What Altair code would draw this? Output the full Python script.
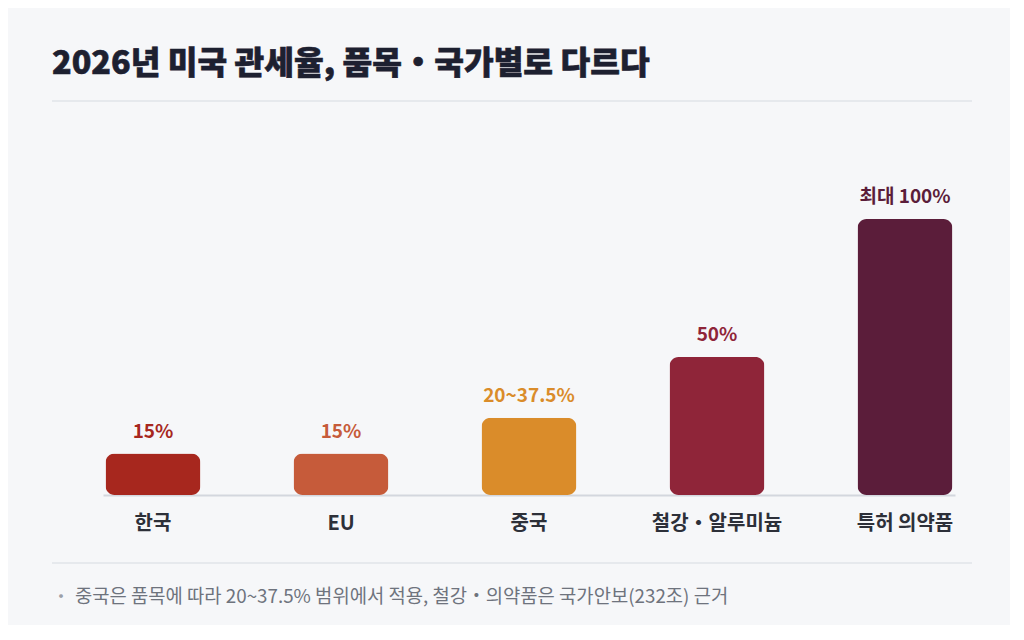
import altair as alt
import pandas as pd

categories = ["한국", "EU", "중국", "철강・알루미늄", "특허 의약품"]
values = [15, 15, 28, 50, 100]
value_labels = ["15%", "15%", "20~37.5%", "50%", "최대 100%"]
colors = ["#a7271e", "#c65b3a", "#da8c2a", "#8f2539", "#5b1d3a"]

title_text = "2026년 미국 관세율, 품목・국가별로 다르다"
footnote_text = "중국은 품목에 따라 20~37.5% 범위에서 적용, 철강・의약품은 국가안보(232조) 근거"

FONT = "Noto Sans CJK KR"
BG = "#f6f7f9"

df = pd.DataFrame({"cat": categories, "val": values, "label": value_labels})

xenc = alt.X(
    "cat:N",
    sort=categories,
    scale=alt.Scale(paddingInner=0.495, paddingOuter=0.0135),
    axis=alt.Axis(
        title=None,
        labelAngle=0,
        labelFont=FONT,
        labelFontSize=20,
        labelFontWeight="bold",
        labelColor="#2d3039",
        labelPadding=18,
        ticks=False,
        tickSize=0,
        domainColor="#d3d7de",
        domainWidth=2,
        grid=False,
    ),
)
yenc = alt.Y("val:Q", scale=alt.Scale(domain=[0, 100]), axis=None)
color_enc = alt.Color(
    "cat:N", scale=alt.Scale(domain=categories, range=colors), legend=None
)

bars = alt.Chart(df).mark_bar(cornerRadius=9).encode(x=xenc, y=yenc, color=color_enc)

labels = alt.Chart(df).mark_text(
    font=FONT, fontSize=19, fontWeight="bold", baseline="alphabetic", dy=-16
).encode(x=xenc, y=yenc, text="label:N", color=color_enc)

title = alt.Chart(pd.DataFrame({"t": [title_text]})).mark_text(
    font=FONT, fontSize=32.3, fontWeight=900, color="#1d2030",
    stroke="#1d2030", strokeWidth=0.6,
    align="left", baseline="alphabetic"
).encode(x=alt.value(-51), y=alt.value(-145), text="t:N")

top_rule = alt.Chart(pd.DataFrame({"a": [0]})).mark_rule(
    color="#e1e4e9", strokeWidth=1.5
).encode(x=alt.value(-51), x2=alt.value(869), y=alt.value(-118))

bottom_rule = alt.Chart(pd.DataFrame({"a": [0]})).mark_rule(
    color="#e1e4e9", strokeWidth=1.5
).encode(x=alt.value(-51), x2=alt.value(869), y=alt.value(344))

bullet = alt.Chart(pd.DataFrame({"t": ["・"]})).mark_text(
    font=FONT, fontSize=18, color="#9ca0a8", align="center", baseline="alphabetic"
).encode(x=alt.value(-42), y=alt.value(384), text="t:N")

footnote = alt.Chart(pd.DataFrame({"t": [footnote_text]})).mark_text(
    font=FONT, fontSize=18.8, color="#6e737d", align="left", baseline="alphabetic"
).encode(x=alt.value(-28), y=alt.value(384), text="t:N")

chart = alt.layer(
    top_rule, bottom_rule, bars, labels, title, bullet, footnote
).properties(
    width=852,
    height=276,
    background=BG,
    autosize=alt.AutoSizeParams(type="none"),
    padding={"left": 95, "top": 211, "right": 55, "bottom": 130},
).configure_view(stroke=None)

chart.save("out.html", embed_options={"renderer": "svg", "actions": False})
